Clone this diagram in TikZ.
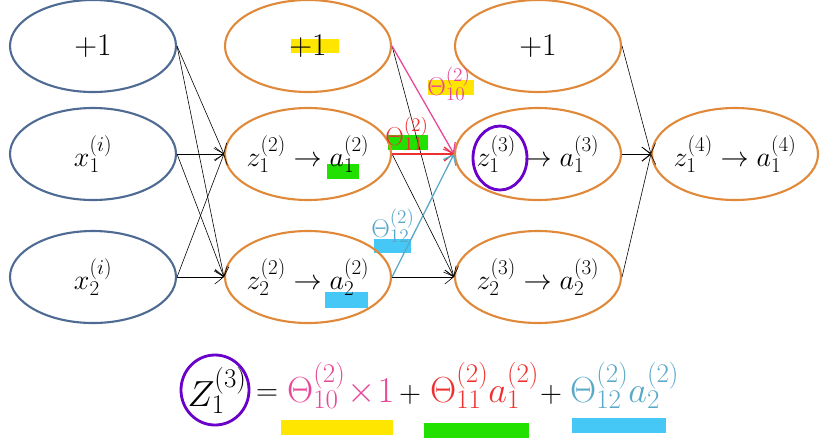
\RequirePackage{fix-cm}
\documentclass[tikz,border=0pt]{standalone}
\usetikzlibrary{shapes.geometric,arrows.meta}
\definecolor{nblue}{HTML}{4F6B94}
\definecolor{norange}{HTML}{E0893A}
\definecolor{tpink}{HTML}{E8479A}
\definecolor{tred}{HTML}{F03030}
\definecolor{tlblue}{HTML}{5AA8C8}
\definecolor{hyellow}{HTML}{FFE600}
\definecolor{hgreen}{HTML}{22E000}
\definecolor{hcyan}{HTML}{45C8F5}
\definecolor{npurple}{HTML}{6A00CC}
\DeclareMathSizes{24}{24}{18}{13}
\DeclareMathSizes{22}{22}{16.5}{12}
\DeclareMathSizes{31}{31}{23}{16}
\tikzset{
  neuron/.style={ellipse, line width=1.8pt, minimum width=4.98cm, minimum height=2.76cm, inner sep=0pt},
  inn/.style={neuron, draw=nblue},
  hid/.style={neuron, draw=norange},
  ntext/.style={font=\fontsize{24}{28}\selectfont, inner sep=0pt},
  bigone/.style={font=\fontsize{27}{30}\selectfont, inner sep=0pt},
  conn/.style={-{Straight Barb[length=2.6mm,width=4.2mm]}, line width=0.5pt, black},
  wconn/.style={-{Straight Barb[length=2.6mm,width=4.2mm]}, line width=1.1pt},
  lab/.style={font=\fontsize{22}{26}\selectfont, inner sep=0pt},
  eq/.style={font=\fontsize{31}{36}\selectfont, inner sep=0pt, anchor=base west},
  eqop/.style={font=\fontsize{26}{30}\selectfont, inner sep=0pt, anchor=base west},
}
\begin{document}
\begin{tikzpicture}[x=0.03cm,y=-0.03cm]
\useasboundingbox (0,0) rectangle (822,440);
% highlights
\fill[hyellow] (291,39) rectangle (339,53);
\fill[hgreen] (327,164) rectangle (359,179);
\fill[hcyan] (325,292) rectangle (368,308);
\fill[hgreen] (388,135) rectangle (428,150);
\fill[hyellow] (428,80) rectangle (474,95);
\fill[hcyan] (374,239) rectangle (411,253);
\fill[hyellow] (281,420) rectangle (393,435);
\fill[hgreen] (424,423) rectangle (529,438);
\fill[hcyan] (572,418) rectangle (666,433);
% layer 1
\node[inn] (a1) at (93,46) {};
\node[inn] (a2) at (93,154) {};
\node[inn] (a3) at (93,277) {};
\node[bigone] (a1t) at (a1) {$+1$};
\node[ntext] (a2t) at (a2) {$x_1^{(i)}$};
\node[ntext] (a3t) at (a3) {$x_2^{(i)}$};
% layer 2
\node[hid] (b1) at (308,46) {};
\node[hid] (b2) at (308,154) {};
\node[hid] (b3) at (308,277) {};
\node[bigone] (b1t) at (b1) {$+1$};
\node[ntext] (b2t) at (b2) {$z_1^{(2)}\rightarrow a_1^{(2)}$};
\node[ntext] (b3t) at (b3) {$z_2^{(2)}\rightarrow a_2^{(2)}$};
% layer 3
\node[hid] (c1) at (538,46) {};
\node[hid] (c2) at (538,154) {};
\node[hid] (c3) at (538,277) {};
\node[bigone] (c1t) at (c1) {$+1$};
\node[ntext] (c2t) at (c2) {$z_1^{(3)}\rightarrow a_1^{(3)}$};
\node[ntext] (c3t) at (c3) {$z_2^{(3)}\rightarrow a_2^{(3)}$};
% layer 4
\node[hid] (d1) at (735,154) {};
\node[ntext] (d1t) at (d1) {$z_1^{(4)}\rightarrow a_1^{(4)}$};
% purple circle around z_1^(3)
\draw[npurple, line width=2.4pt] (500,158) ellipse [x radius=27, y radius=32];
% connectors layer 1 -> 2
\foreach \s in {a1,a2,a3}{
  \draw[conn] (\s.east) -- (b2.west);
  \draw[conn] (\s.east) -- (b3.west);
}
% layer 2 -> 3
\draw[conn] (b1.east) -- (c3.west);
\draw[conn] (b2.east) -- (c3.west);
\draw[conn] (b3.east) -- (c3.west);
\draw[wconn, tpink] (b1.east) -- (c2.west);
\draw[wconn, tred] (b2.east) -- (c2.west);
\draw[wconn, tlblue] (b3.east) -- (c2.west);
% layer 3 -> 4
\foreach \s in {c1,c2,c3}{
  \draw[conn] (\s.east) -- (d1.west);
}
% weight labels
\node[lab, text=tpink] (t10) at (449,84) {$\Theta_{10}^{(2)}$};
\node[lab, text=tred] (t11) at (407,134) {$\Theta_{11}^{(2)}$};
\node[lab, text=tlblue] (t12) at (393,226) {$\Theta_{12}^{(2)}$};
% equation
\node[font=\fontsize{31}{36}\selectfont, inner sep=0pt] (Z) at (217,390) {$Z_1^{(3)}$};
\draw[npurple, line width=2.4pt] (215,390) ellipse [x radius=34, y radius=35];
\node[eqop] (e1) at (256,400) {$=$};
\node[eq, text=tpink] (e2) at (287,402) {$\Theta_{10}^{(2)}\!\times\!1$};
\node[eqop] (e3) at (399,402) {$+$};
\node[eq, text=tred] (e4) at (430,402) {$\Theta_{11}^{(2)}a_1^{(2)}$};
\node[eqop] (e5) at (540,402) {$+$};
\node[eq, text=tlblue] (e6) at (570,402) {$\Theta_{12}^{(2)}a_2^{(2)}$};
\end{tikzpicture}
\end{document}
